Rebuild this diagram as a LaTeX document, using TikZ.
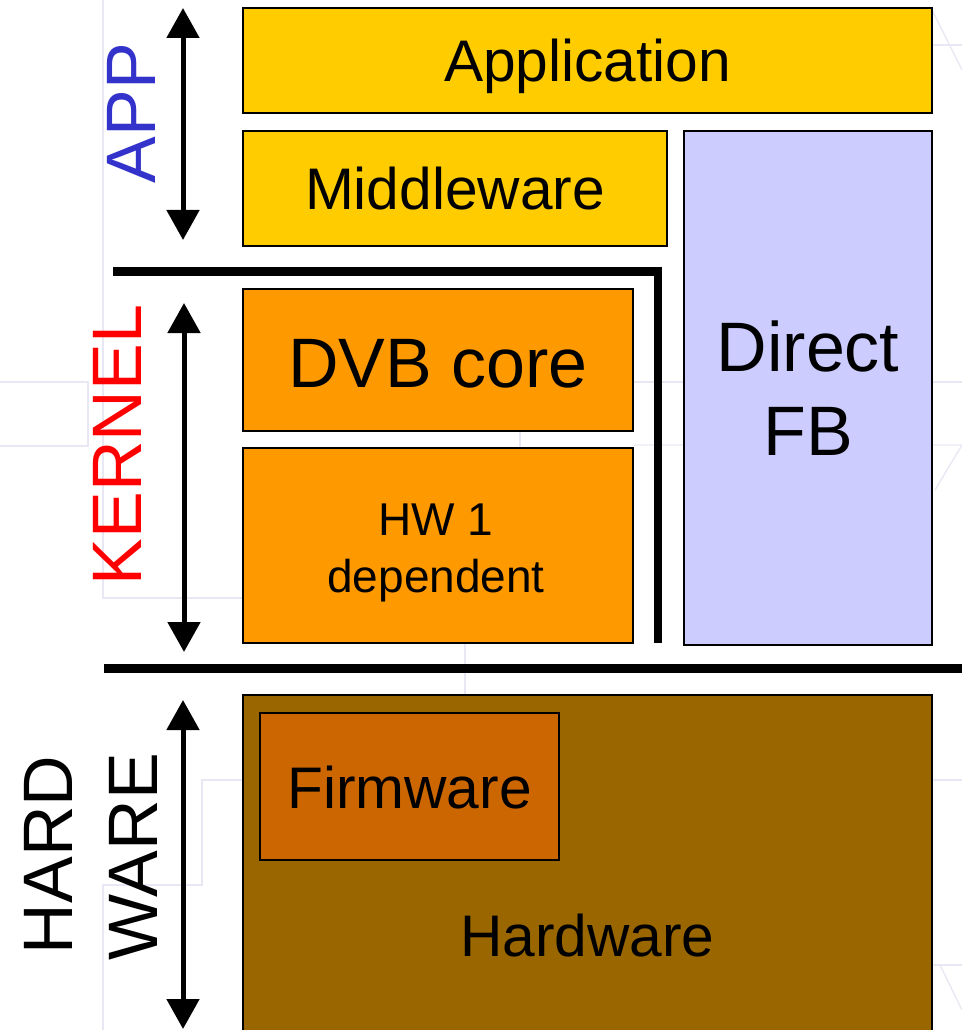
\documentclass[tikz,border=0pt]{standalone}
\usepackage{fontspec}
\setmainfont{Liberation Sans}
\usetikzlibrary{arrows.meta}
\definecolor{appY}{HTML}{FFCC00}
\definecolor{dvbO}{HTML}{FF9900}
\definecolor{dfbL}{HTML}{CCCCFF}
\definecolor{hwB}{HTML}{996600}
\definecolor{fwO}{HTML}{CC6600}
\definecolor{appBlue}{HTML}{3333CC}
\definecolor{bgLine}{HTML}{E8E8F4}
\begin{document}
\begin{tikzpicture}[x=0.75pt,y=-0.75pt,
  layerbox/.style={draw=black, line width=1.2pt, inner sep=0pt, outer sep=0pt},
  txtM/.style={anchor=base, inner sep=0pt, font=\fontsize{44pt}{52pt}\selectfont},
  txtL/.style={anchor=base, inner sep=0pt, font=\fontsize{52.5pt}{63pt}\selectfont},
  txtS/.style={anchor=base, inner sep=0pt, font=\fontsize{34.5pt}{42pt}\selectfont},
  sidelbl/.style={anchor=base, inner sep=0pt, rotate=90, font=\fontsize{52.5pt}{63pt}\selectfont},
  dblarrow/.style={line width=3.75pt, {Triangle[width=24pt,length=22.5pt]}-{Triangle[width=24pt,length=22.5pt]}},
  sepline/.style={line width=6.5pt, line join=miter},
  bgdeco/.style={draw=bgLine, line width=1pt}
]
\useasboundingbox (0,0) rectangle (962,1030);
\fill[white] (0,0) rectangle (962,1030);

% faint background template lines
\draw[bgdeco] (103,0) -- (103,598) -- (243,598);
\draw[bgdeco] (0,382) -- (88,382) -- (88,446) -- (0,446);
\draw[bgdeco] (633,382) -- (962,382);
\draw[bgdeco] (633,445) -- (962,445) -- (935,490);
\draw[bgdeco] (520,431) -- (520,448);
\draw[bgdeco] (465,643) -- (465,695);
\draw[bgdeco] (243,780) -- (202,780) -- (202,885) -- (103,885) -- (103,1030);
\draw[bgdeco] (932,780) -- (962,780);
\draw[bgdeco] (932,45) -- (962,45);
\draw[bgdeco] (932,10) -- (962,70);
\draw[bgdeco] (932,965) -- (962,965);
\draw[bgdeco] (940,965) -- (962,1010);

% boxes
\node[layerbox, fill=appY, minimum width=516.75pt, minimum height=78.75pt] (app) at (587.5,60.5) {};
\node[layerbox, fill=appY, minimum width=318pt, minimum height=86.25pt] (mid) at (455,188.5) {};
\node[layerbox, fill=dfbL, minimum width=186pt, minimum height=385.5pt] (dfb) at (808,388) {};
\node[layerbox, fill=dvbO, minimum width=292.5pt, minimum height=106.5pt] (dvb) at (438,360) {};
\node[layerbox, fill=dvbO, minimum width=292.5pt, minimum height=146.25pt] (hwd) at (438,545.5) {};
\node[layerbox, fill=hwB, minimum width=516.75pt, minimum height=262.5pt] (hw) at (587.5,870) {};
\node[layerbox, fill=fwO, minimum width=224.25pt, minimum height=110.25pt] (fw) at (409.5,786.5) {};

% box texts
\node[txtM] (tapp) at (587.5,82) {Application};
\node[txtM] (tmid) at (455,210) {Middleware};
\node[txtL] (tdvb) at (438,387) {DVB core};
\node[txtL] (tdfa) at (808,371) {Direct};
\node[txtL] (tdfb) at (808,455) {FB};
\node[txtS] (thwa) at (436,535) {HW 1};
\node[txtS] (thwb) at (436,592) {dependent};
\node[txtM] (tfw) at (409.5,808) {Firmware};
\node[txtM] (thw) at (587.5,956) {Hardware};

% separator lines
\coordinate (s1a) at (113,271.5);
\coordinate (s1b) at (658,643);
\draw[sepline] (s1a) -| (s1b);
\coordinate (s2a) at (104,668.5);
\coordinate (s2b) at (962,668.5);
\draw[sepline] (s2a) -- (s2b);

% side arrows
\coordinate (a1t) at (183,8);
\coordinate (a1b) at (183,240);
\coordinate (a2t) at (184,303);
\coordinate (a2b) at (184,652);
\coordinate (a3t) at (183,700);
\coordinate (a3b) at (183,1029);
\draw[dblarrow] (a1t) -- (a1b);
\draw[dblarrow] (a2t) -- (a2b);
\draw[dblarrow] (a3t) -- (a3b);

% side labels
\node[sidelbl, text=appBlue] (lapp) at (155,113) {APP};
\node[sidelbl, text=red] (lker) at (141,445) {KERNEL};
\node[sidelbl] (lhard) at (72,855) {HARD};
\node[sidelbl] (lware) at (157,857) {WARE};
\end{tikzpicture}
\end{document}
